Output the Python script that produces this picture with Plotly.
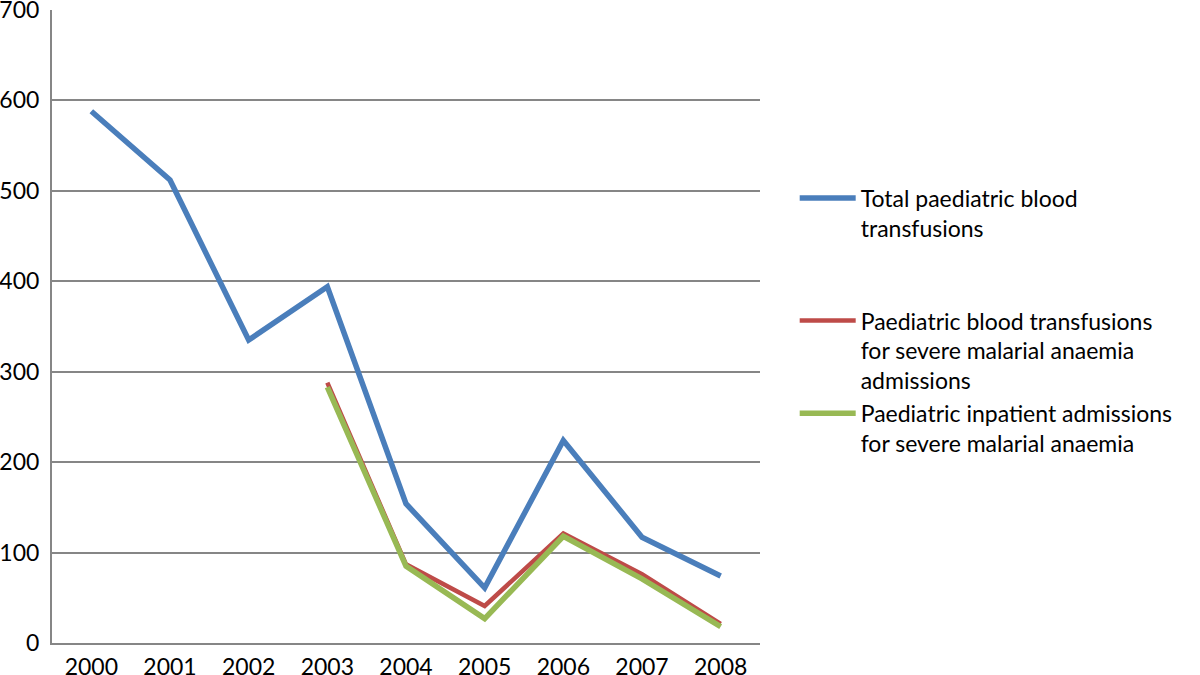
import plotly.graph_objects as go

years = ["2000", "2001", "2002", "2003", "2004", "2005", "2006", "2007", "2008"]
total_transfusions = [588, 512, 335, 394, 154, 61, 224, 117, 74]
sma_transfusions = [None, None, None, 288, 87, 41, 121, 76, 21]
sma_admissions = [None, None, None, 283, 85, 27, 118, 71, 18]

names = [
    "Total paediatric blood<br>transfusions<br> <br> ",
    "Paediatric blood transfusions<br>for severe malarial anaemia<br>admissions",
    "Paediatric inpatient admissions<br>for severe malarial anaemia",
]
colors = ["#4a7ebb", "#be4b48", "#98b954"]
widths = [5.5, 4.5, 5.5]

fig = go.Figure()
for name, vals, c, w in zip(names, [total_transfusions, sma_transfusions, sma_admissions], colors, widths):
    fig.add_trace(go.Scatter(x=years, y=vals, mode="lines", name=name,
                             line=dict(color=c, width=w), connectgaps=False))

fig.update_layout(
    width=1200, height=675,
    paper_bgcolor="white", plot_bgcolor="white",
    margin=dict(l=52, r=440, t=10, b=31.5, autoexpand=False),
    font=dict(family="Lato", size=23, color="black"),
    legend=dict(x=1.049, y=0.737, xanchor="left", yanchor="top", valign="top",
                font=dict(size=23), itemwidth=56, tracegroupgap=0,
                bgcolor="rgba(0,0,0,0)"),
    xaxis=dict(type="category", range=[-0.5, 8.5], showgrid=False,
               showline=True, linecolor="#868686", linewidth=2,
               ticks="", tickfont=dict(size=23), ticklabelstandoff=2),
    yaxis=dict(range=[0, 700], dtick=100, showgrid=True, gridcolor="#868686",
               gridwidth=1.5, showline=True, linecolor="#868686", linewidth=2,
               zeroline=False, ticks="", tickfont=dict(size=23), ticklabelstandoff=6,
               ticklabeloverflow="allow"),
)
fig.write_html("out.html", config={"displayModeBar": False},
               post_script="document.body.style.margin='0';")
